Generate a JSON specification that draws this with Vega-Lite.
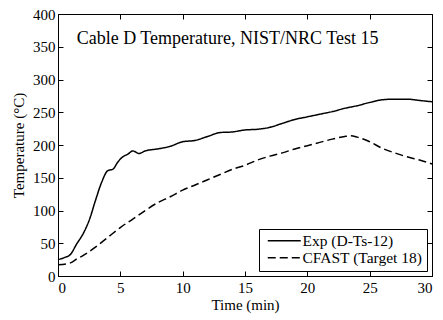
{
  "$schema": "https://vega.github.io/schema/vega-lite/v6.json",
  "autosize": "none",
  "padding": {"left": 58, "top": 14, "right": 11, "bottom": 44},
  "width": 374,
  "height": 262,
  "config": {
    "font": "Liberation Serif",
    "view": {"stroke": "black", "strokeWidth": 1},
    "axis": {
      "grid": false,
      "domainColor": "black",
      "tickColor": "black",
      "tickSize": -5,
      "labelColor": "black",
      "titleColor": "black",
      "labelFont": "Liberation Serif",
      "titleFont": "Liberation Serif",
      "labelFontSize": 15,
      "titleFontSize": 15,
      "titleFontWeight": "normal"
    }
  },
  "datasets": {
    "d": [
      {"t": 0, "T": 25, "s": "Exp (D-Ts-12)"},
      {"t": 0.5, "T": 28, "s": "Exp (D-Ts-12)"},
      {"t": 1, "T": 33, "s": "Exp (D-Ts-12)"},
      {"t": 1.5, "T": 49, "s": "Exp (D-Ts-12)"},
      {"t": 2, "T": 64, "s": "Exp (D-Ts-12)"},
      {"t": 2.5, "T": 85, "s": "Exp (D-Ts-12)"},
      {"t": 3, "T": 115, "s": "Exp (D-Ts-12)"},
      {"t": 3.5, "T": 143, "s": "Exp (D-Ts-12)"},
      {"t": 4, "T": 161, "s": "Exp (D-Ts-12)"},
      {"t": 4.4, "T": 163, "s": "Exp (D-Ts-12)"},
      {"t": 4.8, "T": 174, "s": "Exp (D-Ts-12)"},
      {"t": 5.2, "T": 182, "s": "Exp (D-Ts-12)"},
      {"t": 5.6, "T": 186, "s": "Exp (D-Ts-12)"},
      {"t": 6, "T": 191, "s": "Exp (D-Ts-12)"},
      {"t": 6.5, "T": 187, "s": "Exp (D-Ts-12)"},
      {"t": 7, "T": 191, "s": "Exp (D-Ts-12)"},
      {"t": 8, "T": 194, "s": "Exp (D-Ts-12)"},
      {"t": 9, "T": 198, "s": "Exp (D-Ts-12)"},
      {"t": 10, "T": 205, "s": "Exp (D-Ts-12)"},
      {"t": 11, "T": 207, "s": "Exp (D-Ts-12)"},
      {"t": 12, "T": 213, "s": "Exp (D-Ts-12)"},
      {"t": 13, "T": 219, "s": "Exp (D-Ts-12)"},
      {"t": 14, "T": 220, "s": "Exp (D-Ts-12)"},
      {"t": 15, "T": 223, "s": "Exp (D-Ts-12)"},
      {"t": 16, "T": 224, "s": "Exp (D-Ts-12)"},
      {"t": 17, "T": 227, "s": "Exp (D-Ts-12)"},
      {"t": 18, "T": 233, "s": "Exp (D-Ts-12)"},
      {"t": 19, "T": 239, "s": "Exp (D-Ts-12)"},
      {"t": 20, "T": 243, "s": "Exp (D-Ts-12)"},
      {"t": 21, "T": 247, "s": "Exp (D-Ts-12)"},
      {"t": 22, "T": 251, "s": "Exp (D-Ts-12)"},
      {"t": 23, "T": 256, "s": "Exp (D-Ts-12)"},
      {"t": 24, "T": 260, "s": "Exp (D-Ts-12)"},
      {"t": 25, "T": 265, "s": "Exp (D-Ts-12)"},
      {"t": 26, "T": 269, "s": "Exp (D-Ts-12)"},
      {"t": 27, "T": 270, "s": "Exp (D-Ts-12)"},
      {"t": 28, "T": 270, "s": "Exp (D-Ts-12)"},
      {"t": 29, "T": 268, "s": "Exp (D-Ts-12)"},
      {"t": 30, "T": 266, "s": "Exp (D-Ts-12)"},
      {"t": 0, "T": 17, "s": "CFAST (Target 18)"},
      {"t": 1, "T": 20, "s": "CFAST (Target 18)"},
      {"t": 1.5, "T": 26, "s": "CFAST (Target 18)"},
      {"t": 2, "T": 31, "s": "CFAST (Target 18)"},
      {"t": 3, "T": 44, "s": "CFAST (Target 18)"},
      {"t": 4, "T": 59, "s": "CFAST (Target 18)"},
      {"t": 5, "T": 74, "s": "CFAST (Target 18)"},
      {"t": 6, "T": 87, "s": "CFAST (Target 18)"},
      {"t": 7, "T": 100, "s": "CFAST (Target 18)"},
      {"t": 8, "T": 112, "s": "CFAST (Target 18)"},
      {"t": 9, "T": 121, "s": "CFAST (Target 18)"},
      {"t": 10, "T": 131, "s": "CFAST (Target 18)"},
      {"t": 11, "T": 139, "s": "CFAST (Target 18)"},
      {"t": 12, "T": 147, "s": "CFAST (Target 18)"},
      {"t": 13, "T": 155, "s": "CFAST (Target 18)"},
      {"t": 14, "T": 163, "s": "CFAST (Target 18)"},
      {"t": 15, "T": 169, "s": "CFAST (Target 18)"},
      {"t": 16, "T": 177, "s": "CFAST (Target 18)"},
      {"t": 17, "T": 183, "s": "CFAST (Target 18)"},
      {"t": 18, "T": 188, "s": "CFAST (Target 18)"},
      {"t": 19, "T": 194, "s": "CFAST (Target 18)"},
      {"t": 20, "T": 199, "s": "CFAST (Target 18)"},
      {"t": 21, "T": 204, "s": "CFAST (Target 18)"},
      {"t": 22, "T": 209, "s": "CFAST (Target 18)"},
      {"t": 23, "T": 213, "s": "CFAST (Target 18)"},
      {"t": 23.5, "T": 214, "s": "CFAST (Target 18)"},
      {"t": 24, "T": 212, "s": "CFAST (Target 18)"},
      {"t": 25, "T": 205, "s": "CFAST (Target 18)"},
      {"t": 26, "T": 195, "s": "CFAST (Target 18)"},
      {"t": 27, "T": 188, "s": "CFAST (Target 18)"},
      {"t": 28, "T": 182, "s": "CFAST (Target 18)"},
      {"t": 29, "T": 177, "s": "CFAST (Target 18)"},
      {"t": 30, "T": 171, "s": "CFAST (Target 18)"}
    ],
    "label": [{"text": "Cable D Temperature, NIST/NRC Test 15"}]
  },
  "layer": [
    {
      "data": {"name": "d"},
      "mark": {"type": "line", "color": "black", "strokeWidth": 1.5, "interpolate": "monotone"},
      "encoding": {
        "x": {"field": "t", "type": "quantitative", "scale": {"domain": [0, 30], "nice": false},
              "axis": {"title": "Time (min)", "values": [0, 5, 10, 15, 20, 25, 30], "labelPadding": 9, "titlePadding": 2}},
        "y": {"field": "T", "type": "quantitative", "scale": {"domain": [0, 400], "nice": false},
              "axis": {"title": "Temperature (°C)", "values": [0, 50, 100, 150, 200, 250, 300, 350, 400], "labelPadding": 8, "titlePadding": 6}},
        "strokeDash": {"field": "s", "type": "nominal",
          "scale": {"domain": ["Exp (D-Ts-12)", "CFAST (Target 18)"], "range": [[1, 0], [8, 4]]},
          "legend": {"title": null, "orient": "bottom-right", "offset": 5, "strokeColor": "black", "fillColor": "white",
            "padding": 4, "symbolType": "M-1,0H4.5", "symbolSize": 144, "symbolStrokeWidth": 1.5, "symbolStrokeColor": "black",
            "symbolOffset": 3, "labelOffset": 21,
            "labelFont": "Liberation Serif", "labelFontSize": 15.5, "labelColor": "black", "rowPadding": -3, "cornerRadius": 0}}
      }
    },
    {
      "data": {"name": "label"},
      "mark": {"type": "text", "align": "left", "baseline": "middle", "fontSize": 18, "font": "Liberation Serif", "color": "black"},
      "encoding": {
        "x": {"datum": 1.5, "type": "quantitative", "axis": {"orient": "top", "labels": false, "title": null, "domain": false, "values": [0, 5, 10, 15, 20, 25, 30]}},
        "y": {"datum": 362, "type": "quantitative", "axis": {"orient": "right", "labels": false, "title": null, "domain": false, "values": [0, 50, 100, 150, 200, 250, 300, 350, 400]}},
        "text": {"field": "text"}
      }
    }
  ],
  "resolve": {"axis": {"x": "independent", "y": "independent"}}
}
